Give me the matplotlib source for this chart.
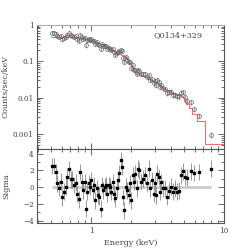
import numpy as np
import matplotlib
matplotlib.use("Agg")
import matplotlib.pyplot as plt
from matplotlib.ticker import LogLocator, FixedLocator, NullFormatter, MultipleLocator

# ---- data ----
energy = [0.512, 0.530, 0.543, 0.558, 0.575, 0.592, 0.609, 0.627, 0.645, 0.664,
          0.683, 0.703, 0.723, 0.745, 0.767, 0.789, 0.808, 0.827, 0.851, 0.875,
          0.897, 0.917, 0.938, 0.961, 0.983, 1.005, 1.030, 1.053, 1.077, 1.104,
          1.129, 1.155, 1.183, 1.210, 1.237, 1.268, 1.297, 1.326, 1.359, 1.390,
          1.421, 1.456, 1.489, 1.523, 1.561, 1.596, 1.632, 1.672, 1.710, 1.749,
          1.780, 1.824, 1.875, 1.920, 1.964, 2.009, 2.058, 2.105, 2.153, 2.205,
          2.256, 2.308, 2.391, 2.451, 2.539, 2.631, 2.726, 2.789, 2.888, 2.956,
          3.027, 3.090, 3.149, 3.227, 3.30, 3.38, 3.50, 3.61, 3.71, 3.84,
          3.97, 4.11, 4.26, 4.41, 4.56, 4.72, 4.89, 5.07, 5.30, 5.60,
          5.95, 6.52, 8.03]

counts = [0.61, 0.61, 0.57, 0.495, 0.463, 0.506, 0.40, 0.438, 0.47, 0.54,
          0.582, 0.516, 0.511, 0.473, 0.489, 0.409, 0.37, 0.535, 0.466, 0.409,
          0.45, 0.284, 0.373, 0.411, 0.387, 0.407, 0.350, 0.364, 0.291, 0.330,
          0.293, 0.274, 0.223, 0.297, 0.269, 0.266, 0.261, 0.222, 0.236, 0.221,
          0.198, 0.212, 0.175, 0.153, 0.167, 0.180, 0.189, 0.210, 0.190, 0.126,
          0.097, 0.131, 0.110, 0.093, 0.094, 0.066, 0.077, 0.059, 0.058, 0.045,
          0.058, 0.055, 0.045, 0.045, 0.045, 0.038, 0.042, 0.031, 0.032, 0.025,
          0.0288, 0.0222, 0.031, 0.0271, 0.0201, 0.0229, 0.0185, 0.0171, 0.0136, 0.0145,
          0.0146, 0.0121, 0.0121, 0.0108, 0.0109, 0.0138, 0.0141, 0.0105, 0.0081, 0.0074,
          0.0049, 0.0032, 0.00094]

model = [0.47, 0.47, 0.47, 0.47, 0.47, 0.47, 0.47, 0.47, 0.47, 0.47,
         0.465, 0.465, 0.46, 0.46, 0.46, 0.455, 0.45, 0.44, 0.435, 0.43,
         0.42, 0.41, 0.40, 0.39, 0.385, 0.375, 0.365, 0.355, 0.345, 0.335,
         0.325, 0.31, 0.30, 0.29, 0.28, 0.265, 0.255, 0.24, 0.23, 0.22,
         0.21, 0.20, 0.19, 0.18, 0.17, 0.165, 0.16, 0.155, 0.15, 0.145,
         0.14, 0.13, 0.115, 0.105, 0.09, 0.08, 0.065, 0.055, 0.048, 0.046,
         0.045, 0.044, 0.042, 0.040, 0.038, 0.036, 0.033, 0.032, 0.029, 0.028,
         0.027, 0.026, 0.025, 0.023, 0.022, 0.021, 0.019, 0.0175, 0.0165, 0.0155,
         0.0145, 0.0135, 0.0125, 0.012, 0.0118, 0.011, 0.0105, 0.0083, 0.0065, 0.0052,
         0.0036, 0.0023, 0.00053]

sigma = [2.5, 2.5, 1.76, 0.44, -0.12, 0.64, -1.24, -0.57, 0.0, 1.24,
         2.1, 0.92, 0.92, 0.24, 0.52, -0.84, -1.48, 1.8, 0.6, -0.4,
         0.6, -2.57, -0.57, 0.44, 0.04, 0.84, -0.4, 0.24, -1.56, -0.16,
         -0.97, -1.16, -2.57, 0.24, -0.4, 0.04, 0.24, -0.77, 0.24, 0.04,
         -0.57, 0.6, -0.77, -1.36, -0.16, 0.84, 1.64, 3.2, 2.4, -1.2,
         -2.77, 0.04, -0.4, -1.0, 0.44, -1.56, 1.4, 0.6, 1.6, -0.16,
         2.2, 2.0, 0.6, 1.0, 1.4, 0.44, 2.2, -0.16, 0.84, -0.77,
         0.44, -0.97, 1.6, 1.2, -0.57, 0.6, -0.16, -0.16, -1.16, -0.44,
         0.04, -0.57, -0.16, -0.57, -0.44, 1.4, 1.9, 1.2, 1.1, 1.9,
         1.68, 1.8, 2.2]

# fractional size of count error bars, per energy band (upper band edges in keV)
err_band_edge = [1.0, 1.5, 2.0, 3.0, 4.0, 5.0, 7.0, 10.0]
err_band_frac = [0.12, 0.10, 0.11, 0.13, 0.15, 0.18, 0.22, 0.35]

source_name = "Q0134+329"

E = np.array(energy)
C = np.array(counts)
M = np.array(model)
S = np.array(sigma)
frac = np.array(err_band_frac)[np.searchsorted(err_band_edge, E)]
Cerr = frac * M

# model bin edges: geometric midpoints between channels, last bin to 10 keV
mid = np.sqrt(E[:-1] * E[1:])
edges = np.concatenate([[E[0] ** 2 / mid[0]], mid, [10.0]])

plt.rcParams['font.family'] = ['DejaVu Serif']
plt.rcParams['axes.unicode_minus'] = True

fig = plt.figure(figsize=(2.49, 2.49), dpi=100)
ax1 = fig.add_axes([0.149, 0.402, 0.751, 0.498])
ax2 = fig.add_axes([0.149, 0.104, 0.751, 0.298], sharex=ax1)

spine_col = '#555555'
txt_col = '#444444'
fs_tick = 5.2
fs_lab = 5.8

# ---- top panel ----
ax1.stairs(M, edges, baseline=None, color='#f07070', lw=0.8, zorder=2)
ax1.errorbar(E, C, yerr=Cerr, fmt='o', ms=2.8, mfc='none', mec='#666666',
             mew=0.5, ecolor='#777777', elinewidth=0.5, capsize=0, zorder=3)
ax1.set_xscale('log')
ax1.set_yscale('log')
ax1.set_xlim(0.393, 10)
ax1.set_ylim(3.9e-4, 1)
ax1.set_yticks([1, 0.1, 0.01, 0.001])
ax1.set_yticklabels(['1', '0.1', '0.01', '0.001'])
ax1.yaxis.set_minor_locator(LogLocator(base=10, subs=np.arange(2, 10)))
ax1.yaxis.set_minor_formatter(NullFormatter())
ax1.set_ylabel('Counts/sec/keV', fontsize=fs_lab)
ax1.yaxis.set_label_coords(-0.145, 0.5)
ax1.text(0.755, 0.92, source_name, transform=ax1.transAxes, fontsize=fs_lab,
         ha='center', va='center', color=txt_col)
plt.setp(ax1.get_xticklabels(), visible=False)

# ---- bottom panel ----
ax2.hlines(0, E[0], E[-1], color='#cccccc', lw=2.0, zorder=1)
ax2.errorbar(E, S, yerr=np.ones_like(S), fmt='s', ms=1.7, mfc='black',
             mec='black', ecolor='#888888', elinewidth=0.6, capsize=0, zorder=3)
ax2.set_ylim(-4.3, 4.55)
ax2.yaxis.set_major_locator(FixedLocator([-4, -2, 0, 2, 4]))
ax2.yaxis.set_minor_locator(MultipleLocator(1))
ax2.set_ylabel('Sigma', fontsize=fs_lab)
ax2.yaxis.set_label_coords(-0.145, 0.5)
ax2.set_xlabel('Energy (keV)', fontsize=fs_lab, labelpad=3)
ax2.set_xticks([1, 10])
ax2.set_xticklabels(['1', '10'])
ax2.xaxis.set_minor_locator(LogLocator(base=10, subs=np.arange(2, 10)))
ax2.xaxis.set_minor_formatter(NullFormatter())

for ax in (ax1, ax2):
    for s in ax.spines.values():
        s.set_color(spine_col)
        s.set_linewidth(0.8)
    ax.tick_params(which='both', direction='in', top=True, right=True,
                   colors=spine_col, labelcolor=txt_col, labelsize=fs_tick,
                   width=0.6, pad=2.5)
    ax.tick_params(which='major', length=4)
    ax.tick_params(which='minor', length=2)
    ax.yaxis.label.set_color(txt_col)
    ax.xaxis.label.set_color(txt_col)
ax1.spines['top'].set_color('#aaaaaa')

fig.savefig('out.png', dpi=100)
